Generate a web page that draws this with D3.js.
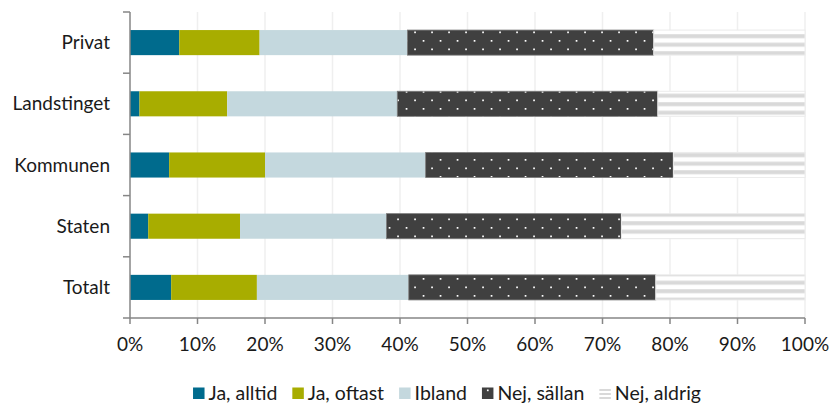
<!DOCTYPE html>
<html>
<head>
<meta charset="utf-8">
<script src="https://cdn.jsdelivr.net/npm/d3@7"></script>
<style>
  html, body { margin: 0; padding: 0; background: #fff; }
  svg { display: block; font-family: Lato, "Open Sans", sans-serif; }
</style>
</head>
<body>
<svg id="chart" width="829" height="403"></svg>
<script>
// ---- data ----
const categories = ["Privat", "Landstinget", "Kommunen", "Staten", "Totalt"];
const seriesNames = ["Ja, alltid", "Ja, oftast", "Ibland", "Nej, sällan", "Nej, aldrig"];
const jaAlltid  = [7.3, 1.4, 5.8, 2.7, 6.1];
const jaOftast  = [11.9, 13.0, 14.2, 13.6, 12.7];
const ibland    = [21.9, 25.2, 23.8, 21.7, 22.5];
const nejSallan = [36.5, 38.6, 36.7, 34.8, 36.6];
const nejAldrig = [22.4, 21.8, 19.5, 27.2, 22.1];
const xTicks = [0, 10, 20, 30, 40, 50, 60, 70, 80, 90, 100];
const xTickLabels = ["0%", "10%", "20%", "30%", "40%", "50%", "60%", "70%", "80%", "90%", "100%"];

const seriesValues = [jaAlltid, jaOftast, ibland, nejSallan, nejAldrig];
const fills = ["#006B8D", "#A8AD00", "#C4D8DE", "url(#dots)", "url(#stripes)"];
const strokes = ["none", "none", "none", "#7a7a7a", "#ececec"];
const FS = 19;

const svg = d3.select("#chart");

const x = d3.scaleLinear().domain([0, 100]).range([130, 805]);
const y = d3.scaleBand().domain(categories).range([12, 318]).paddingInner(0.59).paddingOuter(0.295);

// patterns
const defs = svg.append("defs");
const dots = defs.append("pattern").attr("id", "dots")
  .attr("patternUnits", "userSpaceOnUse").attr("width", 17).attr("height", 17);
dots.append("rect").attr("width", 17).attr("height", 17).attr("fill", "#404040");
dots.append("rect").attr("x", 6.2).attr("y", 14.5).attr("width", 1.7).attr("height", 1.7).attr("fill", "#ffffff");
dots.append("rect").attr("x", 14.7).attr("y", 6.0).attr("width", 1.7).attr("height", 1.7).attr("fill", "#ffffff");

const stripes = defs.append("pattern").attr("id", "stripes")
  .attr("patternUnits", "userSpaceOnUse").attr("width", 10).attr("height", 8.5);
stripes.append("rect").attr("width", 10).attr("height", 8.5).attr("fill", "#ffffff");
stripes.append("rect").attr("x", 0).attr("y", 0.2).attr("width", 10).attr("height", 4).attr("fill", "#d9d9d9");

// gridlines
svg.append("g").selectAll("line").data(xTicks.slice(1)).join("line")
  .attr("x1", d => x(d)).attr("x2", d => x(d))
  .attr("y1", 12).attr("y2", 318)
  .attr("stroke", "#efefef").attr("stroke-width", 1.5);

// stacked bars
const table = categories.map((c, i) => {
  const o = { cat: c };
  seriesNames.forEach((s, k) => o[s] = seriesValues[k][i]);
  return o;
});
const stack = d3.stack().keys(seriesNames)(table);

svg.append("g").selectAll("g").data(stack).join("g")
  .attr("fill", (d, k) => fills[k])
  .attr("stroke", (d, k) => strokes[k])
  .attr("stroke-width", (d, k) => k === 3 ? 0.8 : (k === 4 ? 1 : 0))
  .selectAll("rect").data(d => d).join("rect")
  .attr("x", d => x(d[0]))
  .attr("y", d => y(d.data.cat))
  .attr("width", d => x(d[1]) - x(d[0]))
  .attr("height", y.bandwidth());

// y axis
const yAxisG = svg.append("g");
yAxisG.append("line").attr("x1", 130).attr("x2", 130).attr("y1", 12).attr("y2", 318)
  .attr("stroke", "#868686").attr("stroke-width", 1.5);
const bounds = categories.map((c, i) => 12 + i * y.step()).concat([318]);
yAxisG.selectAll("line.tk").data(bounds).join("line").attr("class", "tk")
  .attr("x1", 123).attr("x2", 130).attr("y1", d => d).attr("y2", d => d)
  .attr("stroke", "#868686").attr("stroke-width", 1.5);
yAxisG.selectAll("text").data(categories).join("text")
  .attr("x", 110).attr("y", d => y(d) + y.bandwidth() / 2)
  .attr("dy", "0.35em").attr("text-anchor", "end")
  .attr("font-size", FS).attr("fill", "#1a1a1a").text(d => d);

// x axis
const xAxisG = svg.append("g");
xAxisG.append("line").attr("x1", 130).attr("x2", 805).attr("y1", 318).attr("y2", 318)
  .attr("stroke", "#868686").attr("stroke-width", 1.5);
xAxisG.selectAll("line.tk").data(xTicks).join("line").attr("class", "tk")
  .attr("x1", d => x(d)).attr("x2", d => x(d)).attr("y1", 318).attr("y2", 324)
  .attr("stroke", "#868686").attr("stroke-width", 1.5);
xAxisG.selectAll("text").data(xTicks).join("text")
  .attr("x", d => x(d)).attr("y", 351)
  .attr("text-anchor", "middle").attr("font-size", FS).attr("fill", "#1a1a1a")
  .text((d, i) => xTickLabels[i]);

// legend
const lg = svg.append("g");
let cx = 0;
const GAP = 15;
seriesNames.forEach((s, k) => {
  const g = lg.append("g");
  if (k < 3) {
    g.append("rect").attr("x", 0).attr("y", -6).attr("width", 11.5).attr("height", 11.5).attr("fill", fills[k]);
  } else if (k === 3) {
    g.append("rect").attr("x", 0).attr("y", -6).attr("width", 11.5).attr("height", 11.5).attr("fill", "#404040");
    g.append("rect").attr("x", 5).attr("y", -4).attr("width", 1.7).attr("height", 1.7).attr("fill", "#fff");
  } else {
    [-4.5, -0.5, 3.5].forEach(yy => g.append("rect").attr("x", 0).attr("y", yy).attr("width", 11.5).attr("height", 2).attr("fill", "#d9d9d9"));
  }
  const t = g.append("text").attr("x", 15.5).attr("y", 0).attr("dy", "0.35em")
    .attr("font-size", 19.5).attr("fill", "#1a1a1a").text(s);
  const w = 15.5 + t.node().getComputedTextLength();
  g.attr("transform", `translate(${cx},0)`);
  cx += w + GAP;
});
const totalW = cx - GAP;
lg.attr("transform", `translate(${447 - totalW / 2},393.5)`);
</script>
</body>
</html>
